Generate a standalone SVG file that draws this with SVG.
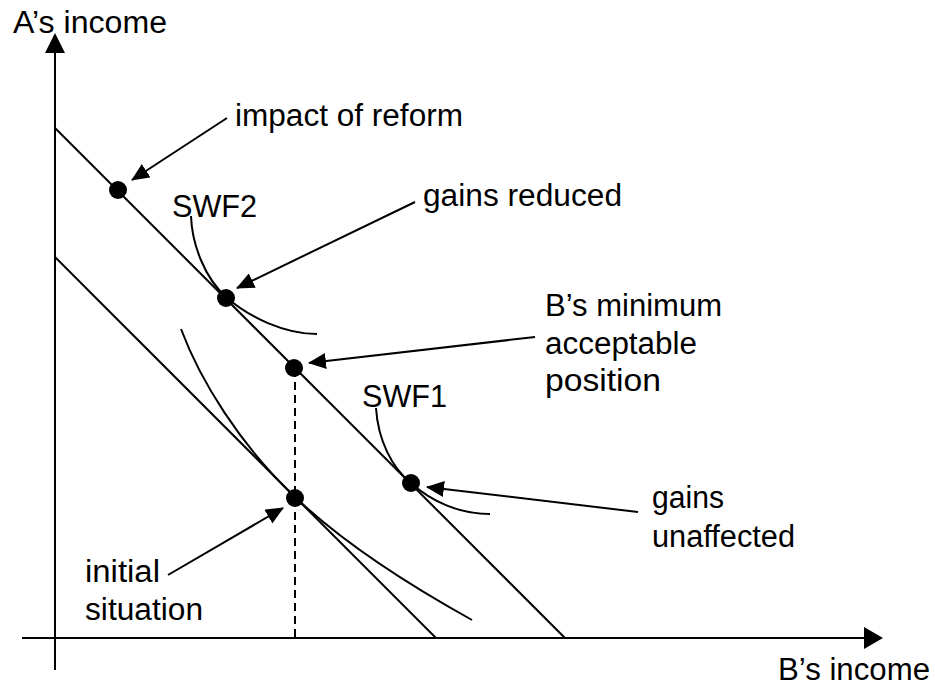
<svg xmlns="http://www.w3.org/2000/svg" width="935" height="688" viewBox="0 0 935 688">
<style>
text{font-family:"Liberation Sans",Arial,sans-serif;font-size:31px;fill:#000}
.ln{stroke:#000;stroke-width:2;fill:none}
.dot{fill:#000}
.lead{stroke:#000;stroke-width:2;fill:none;marker-end:url(#ah)}
</style>
<defs>
<marker id="ah" viewBox="0 0 18 16" refX="17" refY="8" markerWidth="18" markerHeight="16" markerUnits="userSpaceOnUse" orient="auto">
<path d="M0,0 L18,8 L0,16 z" fill="#000"/>
</marker>
</defs>
<rect width="935" height="688" fill="#fff"/>
<g id="axes">
<line class="ln" x1="55" y1="48" x2="55" y2="670"/>
<polygon points="55,33 45,53 65,53" fill="#000"/>
<line class="ln" x1="22" y1="638" x2="866" y2="638"/>
<polygon points="883,638 864,627 864,649" fill="#000"/>
<text x="13" y="33" textLength="154" lengthAdjust="spacingAndGlyphs">A’s income</text>
<text x="778" y="680" textLength="152" lengthAdjust="spacingAndGlyphs">B’s income</text>
</g>
<g id="curves">
<line class="ln" x1="55" y1="128" x2="565" y2="638"/>
<line class="ln" x1="55" y1="257" x2="436" y2="638"/>
<path class="ln" d="M181,329 C200,380 240,445 295,497 C340,540 400,580 472,620"/>
<path class="ln" d="M191,216 C192,245 205,278 226,297 C250,318 285,334 317,334"/>
<path class="ln" d="M376,408 C378,440 392,468 411,483 C432,502 460,514 490,514"/>
<line class="ln" x1="295" y1="369" x2="295" y2="638" stroke-dasharray="8,5"/>
</g>
<g id="impact">
<circle class="dot" cx="118" cy="190" r="9"/>
<text x="235" y="126" textLength="228" lengthAdjust="spacingAndGlyphs">impact of reform</text>
</g>
<g id="swf2"><text x="172" y="217" textLength="85" lengthAdjust="spacingAndGlyphs">SWF2</text></g>
<g id="swf1"><text x="362" y="407" textLength="85" lengthAdjust="spacingAndGlyphs">SWF1</text></g>
<g id="reduced">
<circle class="dot" cx="226" cy="298" r="9"/>
<text x="423" y="206" textLength="199" lengthAdjust="spacingAndGlyphs">gains reduced</text>
</g>
<g id="minimum">
<circle class="dot" cx="294" cy="368" r="9"/>
<text x="545" y="316" textLength="177" lengthAdjust="spacingAndGlyphs">B’s minimum</text>
<text x="545" y="354" textLength="152" lengthAdjust="spacingAndGlyphs">acceptable</text>
<text x="545" y="391" textLength="116" lengthAdjust="spacingAndGlyphs">position</text>
</g>
<g id="unaffected">
<circle class="dot" cx="411" cy="483" r="9"/>
<text x="652" y="508" textLength="72" lengthAdjust="spacingAndGlyphs">gains</text>
<text x="652" y="547" textLength="143" lengthAdjust="spacingAndGlyphs">unaffected</text>
</g>
<g id="initial">
<circle class="dot" cx="295" cy="498" r="9"/>
<text x="85" y="582" textLength="75" lengthAdjust="spacingAndGlyphs">initial</text>
<text x="85" y="620" textLength="118" lengthAdjust="spacingAndGlyphs">situation</text>
</g>
<g id="connectors">
<line class="lead" x1="227" y1="118" x2="132" y2="180"/>
<line class="lead" x1="415" y1="202" x2="237" y2="288"/>
<line class="lead" x1="535" y1="337" x2="309" y2="363"/>
<line class="lead" x1="638" y1="512" x2="427" y2="487"/>
<line class="lead" x1="168" y1="575" x2="283" y2="508"/>
</g>
</svg>
